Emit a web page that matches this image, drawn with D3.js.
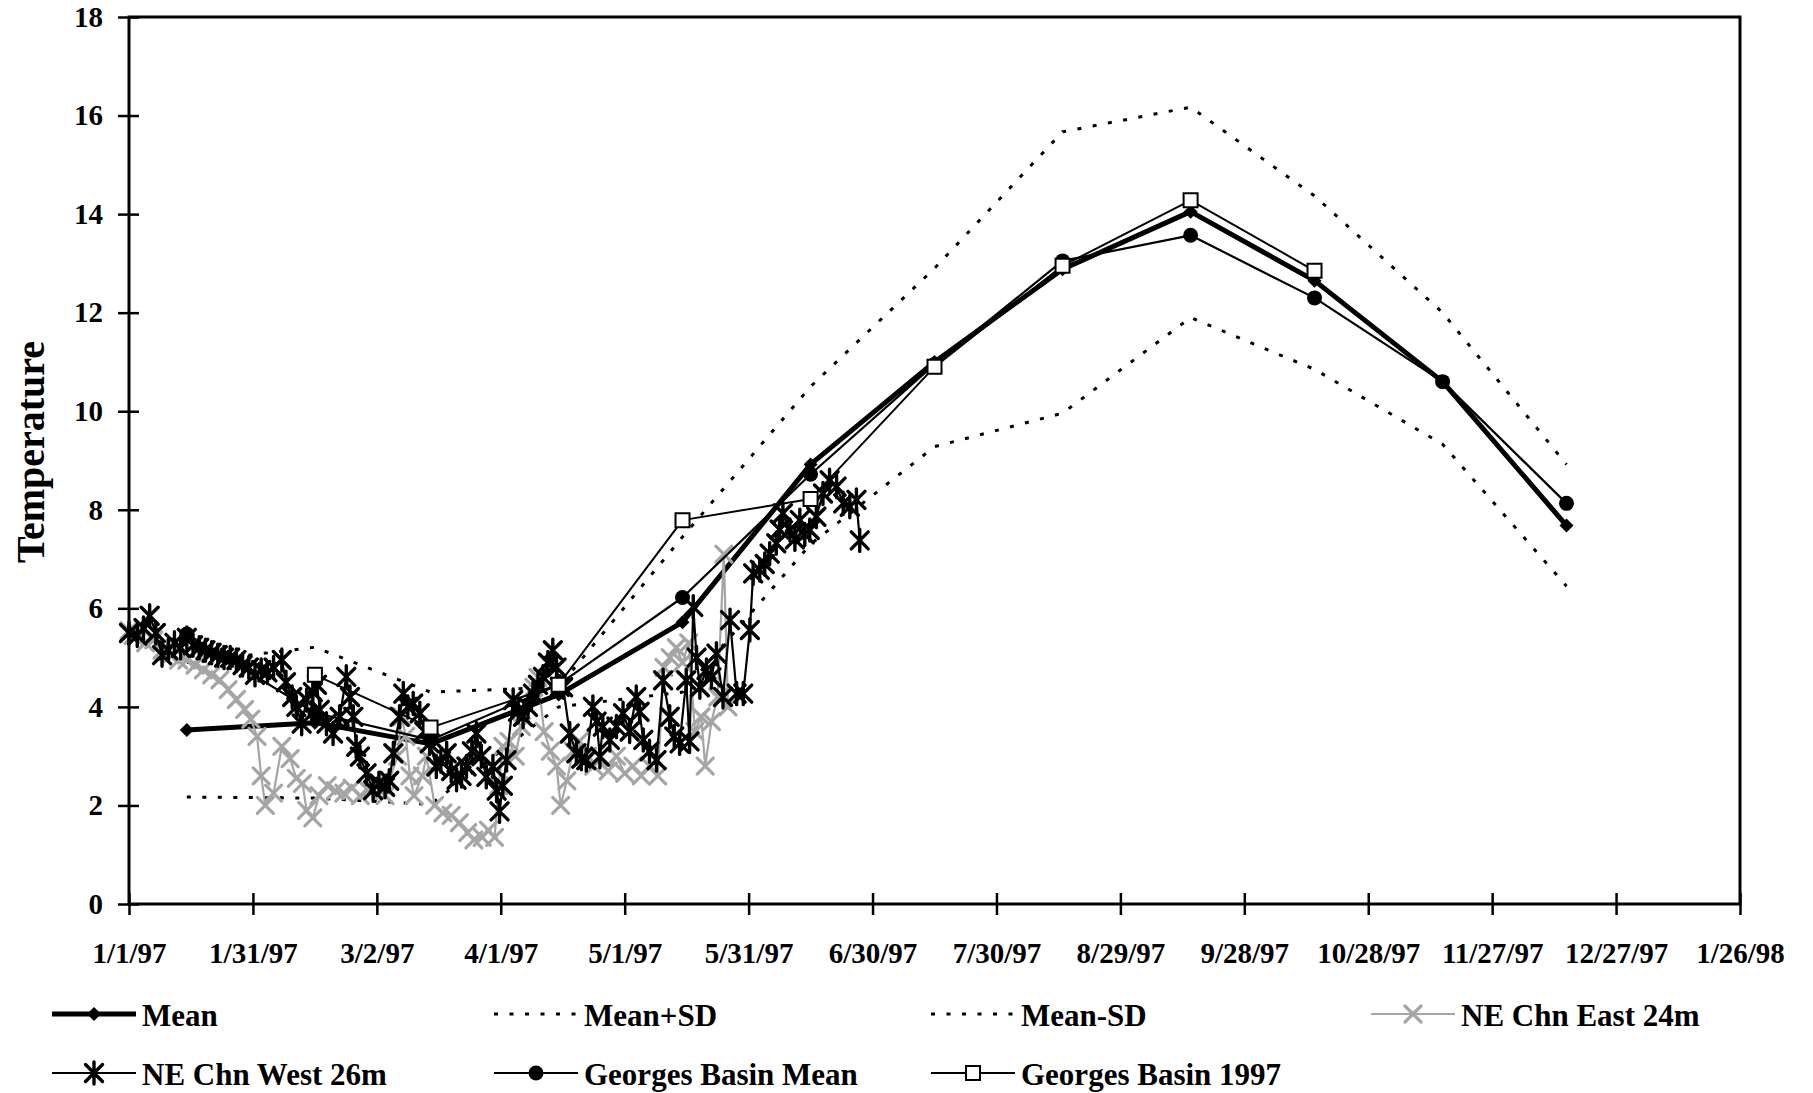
<!DOCTYPE html>
<html>
<head>
<meta charset="utf-8">
<script src="https://cdn.jsdelivr.net/npm/d3@7"></script>
<style>
  html, body { margin: 0; padding: 0; background: #fff; }
  svg { display: block; }
  text { font-family: "Liberation Serif", "Times New Roman", serif; font-weight: bold; fill: #000; }
</style>
</head>
<body>
<svg id="chart" width="1813" height="1093"></svg>
<script>
// ---- data -------------------------------------------------------------
const tickLabels = ["1/1/97","1/31/97","3/2/97","4/1/97","5/1/97","5/31/97","6/30/97",
  "7/30/97","8/29/97","9/28/97","10/28/97","11/27/97","12/27/97","1/26/98"];
const yTicks = [0, 2, 4, 6, 8, 10, 12, 14, 16, 18];

// monthly climatology (mid-month)
const monthDates = ["1/15/97","2/15/97","3/15/97","4/15/97","5/15/97","6/15/97",
  "7/15/97","8/15/97","9/15/97","10/15/97","11/15/97","12/15/97"];
const meanTemp      = [3.53, 3.68, 3.25, 4.25, 5.72, 8.92, 11.0, 12.88, 14.05, 12.65, 10.6, 7.68];
const meanPlusSD    = [4.90, 5.21, 4.30, 4.40, 7.45, 10.5, 12.9, 15.67, 16.17, 14.37, 12.0, 8.92];
const meanMinusSD   = [2.17, 2.15, 2.02, 4.00, 4.30, 7.30, 9.28, 9.96, 11.90, 10.85, 9.33, 6.45];
const basinMeanTemp = [5.48, 3.88, 3.33, 4.45, 6.22, 8.72, 10.95, 13.05, 13.57, 12.30, 10.6, 8.13];

// Georges Basin 1997 monthly observations
const basin97Dates = ["2/15/97","3/15/97","4/15/97","5/15/97","6/15/97",
  "7/15/97","8/15/97","9/15/97","10/15/97"];
const basin97Temp  = [4.65, 3.58, 4.45, 7.79, 8.22, 10.90, 12.95, 14.28, 12.85];

// NE Channel moorings: day of 1997 (0 = Jan 1) and temperature
const eastDay = [0,1,2,4,6,8,10,12,14,16,18,20,22,24,26,28,29.5,31,32,33,35,37,39,40.5,42,43,44.5,
  46,48,50,52,54,56,58,60,62,63,65,66,67,68,69,71,72,74,76,78,80,82,83.5,85.5,87,88.5,89.5,90.5,
  92,93.5,95,96.5,98,99,100.5,102,103.5,104.5,106,107.5,109,111,112.5,114,116,118,120,122,124,
  126,128,129.5,131,132.5,134,135.5,137,138.5,139.5,141,142.5,144,145];
const eastTemp = [5.55,5.45,5.5,5.3,5.36,5.15,5.05,4.95,4.95,4.85,4.75,4.65,4.55,4.35,4.15,3.95,3.75,
  3.4,2.6,2.0,2.25,3.2,2.95,2.55,2.45,1.9,1.75,2.2,2.4,2.3,2.25,2.35,2.2,2.3,2.45,2.2,2.5,3.0,3.8,
  3.4,2.6,2.2,2.6,3.0,2.0,1.85,1.8,1.65,1.45,1.3,1.35,1.5,1.35,2.4,3.2,3.3,3.0,3.6,4.0,4.4,4.6,3.5,
  3.1,2.8,2.0,2.5,3.1,3.3,3.0,2.8,3.0,2.7,3.0,2.65,2.8,2.6,2.8,2.6,4.8,5.0,5.2,4.9,5.3,3.5,3.8,2.8,
  3.7,4.2,7.1,4.0];

const westDay = [0,2,3.5,5,6.5,8,9.5,11,12.5,14,15.5,17,18.5,20,21.5,23,24.5,26,27.5,29,30.5,32,
  33.5,35,37,38,39.5,40.5,41.8,43,44.5,45.5,46.2,47.8,49.4,51,52.6,53.5,54.3,55,55.9,57.5,59.1,
  60.5,62,63,64,65.5,66.4,67.5,68.8,70.4,71.5,72.8,74.4,75.5,76.9,78,79.3,80.5,81.7,83,84.1,85.3,
  86.5,88.1,89,89.7,90.5,91.4,93,94.2,95.4,96.6,97.8,99,100.2,101.4,102.6,103.5,104.3,105.1,
  106.7,108.3,109.5,110.7,112.3,113.2,114,114.7,116.4,118,119.6,121.2,122.8,123.6,124.5,126,
  127.7,129.3,130.9,132,133.3,134.9,135.7,136.6,137.4,138.2,139.8,141,142.2,143.8,145.5,147.1,
  148.7,150.3,151.1,152.7,153.9,155.1,156.7,157.5,158.3,160,161.2,162.4,163.6,164.8,166.4,168,
  169.6,171.3,172.9,174.5,176.1,176.9];
const westTemp = [5.5,5.45,5.6,5.85,5.5,5.05,5.15,5.3,5.2,5.4,5.25,5.2,5.15,5.1,5.05,5.0,5.0,4.95,
  4.85,4.8,4.65,4.75,4.7,4.8,4.95,4.5,4.2,4.0,3.66,4.14,4.3,4.45,3.94,3.66,3.46,3.8,4.61,4.2,3.8,
  3.19,2.99,2.65,2.31,2.45,2.38,2.5,3.06,3.8,4.27,4.0,4.07,3.87,3.5,3.26,2.79,2.9,3.06,2.7,2.52,
  2.6,2.79,3.1,3.46,3.0,2.58,2.79,2.3,1.88,2.4,2.92,4.14,3.9,3.8,4.0,4.27,4.45,4.61,4.9,5.15,4.8,
  4.41,4.4,3.46,3.06,2.95,2.92,4.0,3.7,2.99,3.6,3.33,3.6,3.87,3.5,4.2,3.9,3.33,3.1,2.92,4.54,3.8,
  3.4,3.26,4.54,3.3,6.03,5.0,4.4,4.75,4.6,5.08,4.2,5.76,4.27,4.27,5.56,6.71,6.78,6.9,7.11,7.32,
  7.6,7.93,7.59,7.4,7.79,7.5,7.59,7.86,8.33,8.6,8.47,8.13,8.06,8.2,7.38];

// ---- layout ----------------------------------------------------------
const svg = d3.select("#chart");
const W = 1813, H = 1093;
const plot = { left: 129, right: 1740, top: 17, bottom: 904 };
const parse = d3.timeParse("%m/%d/%y");
const start = parse("1/1/97");
const fromDay = d => new Date(start.getTime() + d * 864e5);

const x = d3.scaleTime().domain([start, parse("1/26/98")]).range([plot.left, plot.right]);
const y = d3.scaleLinear().domain([0, 18]).range([plot.bottom, plot.top]);

svg.append("rect").attr("width", W).attr("height", H).attr("fill", "#fff");

// ---- markers ---------------------------------------------------------
const markerPath = {
  diamond: r => `M0,${-r}L${r},0L0,${r}L${-r},0Z`,
  square: r => `M${-r},${-r}H${r}V${r}H${-r}Z`,
  cross: r => `M${-r},${-r}L${r},${r}M${r},${-r}L${-r},${r}`,
  star: r => `M${-r},${-r}L${r},${r}M${r},${-r}L${-r},${r}M0,${-r * 1.3}V${r * 1.3}`,
};

const series = [
  { name: "Mean", pts: monthDates.map((d, i) => [parse(d), meanTemp[i]]),
    stroke: "#000", width: 5, marker: "diamond", r: 7, fill: "#000" },
  { name: "Mean+SD", pts: monthDates.map((d, i) => [parse(d), meanPlusSD[i]]),
    stroke: "#000", width: 3, dash: "4 11.5" },
  { name: "Mean-SD", pts: monthDates.map((d, i) => [parse(d), meanMinusSD[i]]),
    stroke: "#000", width: 3, dash: "4 11.5" },
  { name: "NE Chn East 24m", pts: eastDay.map((d, i) => [fromDay(d), eastTemp[i]]),
    stroke: "#a5a5a5", width: 2.2, marker: "cross", r: 8, markerStroke: "#a5a5a5", mw: 3.2 },
  { name: "NE Chn West 26m", pts: westDay.map((d, i) => [fromDay(d), westTemp[i]]),
    stroke: "#000", width: 2.2, marker: "star", r: 8.5, markerStroke: "#000", mw: 3.4 },
  { name: "Georges Basin Mean", pts: monthDates.map((d, i) => [parse(d), basinMeanTemp[i]]),
    stroke: "#000", width: 2.2, marker: "circle", r: 7.5, fill: "#000" },
  { name: "Georges Basin 1997", pts: basin97Dates.map((d, i) => [parse(d), basin97Temp[i]]),
    stroke: "#000", width: 2, marker: "square", r: 7, fill: "#fff", markerStroke: "#000", mw: 2 },
];

function drawMarker(g, s, px, py) {
  if (s.marker === "circle") {
    g.append("circle").attr("cx", px).attr("cy", py).attr("r", s.r).attr("fill", s.fill);
  } else {
    g.append("path").attr("transform", `translate(${px},${py})`)
      .attr("d", markerPath[s.marker](s.r))
      .attr("fill", s.fill || "none")
      .attr("stroke", s.markerStroke || "none")
      .attr("stroke-width", s.mw || 0)
      .attr("stroke-linecap", "round");
  }
}

// ---- series ----------------------------------------------------------
const line = d3.line().x(d => x(d[0])).y(d => y(d[1]));
const gData = svg.append("g");
series.forEach(s => {
  const g = gData.append("g");
  g.append("path").datum(s.pts).attr("d", line)
    .attr("fill", "none").attr("stroke", s.stroke).attr("stroke-width", s.width)
    .attr("stroke-dasharray", s.dash || null)
    .attr("stroke-linejoin", "round");
  if (s.marker) s.pts.forEach(p => drawMarker(g, s, x(p[0]), y(p[1])));
});

// ---- frame & axes ----------------------------------------------------
svg.append("rect")
  .attr("x", plot.left).attr("y", plot.top)
  .attr("width", plot.right - plot.left).attr("height", plot.bottom - plot.top)
  .attr("fill", "none").attr("stroke", "#000").attr("stroke-width", 3);

const xAxis = d3.axisBottom(x)
  .tickValues(tickLabels.map(parse))
  .tickFormat((d, i) => tickLabels[i])
  .tickSizeInner(22).tickSizeOuter(0).tickPadding(27);
const gx = svg.append("g").attr("transform", `translate(0,${plot.bottom - 11})`).call(xAxis);
gx.select(".domain").remove();
gx.selectAll(".tick line").attr("stroke", "#000").attr("stroke-width", 2.5);
gx.selectAll(".tick text").attr("font-size", 29).attr("font-family", "Liberation Serif").attr("font-weight", "bold");

const yAxis = d3.axisLeft(y).tickValues(yTicks)
  .tickSizeInner(21).tickSizeOuter(0).tickPadding(15);
const gy = svg.append("g").attr("transform", `translate(${plot.left + 10},0)`).call(yAxis);
gy.select(".domain").remove();
gy.selectAll(".tick line").attr("stroke", "#000").attr("stroke-width", 2.5);
gy.selectAll(".tick text").attr("font-size", 29).attr("font-family", "Liberation Serif").attr("font-weight", "bold");

svg.append("text")
  .attr("transform", "translate(44,452) rotate(-90)")
  .attr("text-anchor", "middle").attr("font-size", 40)
  .text("Temperature");

// ---- legend ----------------------------------------------------------
const legendCols = [52, 494, 931, 1371];
const legendRows = [1014, 1073];
const legendItems = [
  [0, 0, 0], [1, 0, 1], [2, 0, 2], [3, 0, 3],
  [4, 1, 0], [5, 1, 1], [6, 1, 2],
];
const gLeg = svg.append("g");
legendItems.forEach(([si, row, col]) => {
  const s = series[si];
  const x0 = legendCols[col], x1 = x0 + 84, ly = legendRows[row];
  const g = gLeg.append("g");
  g.append("line").attr("x1", x0).attr("x2", x1).attr("y1", ly).attr("y2", ly)
    .attr("stroke", s.stroke).attr("stroke-width", s.width)
    .attr("stroke-dasharray", s.dash || null);
  if (s.marker) drawMarker(g, s, (x0 + x1) / 2, ly);
  g.append("text").attr("x", x1 + 6).attr("y", ly + 12)
    .attr("font-size", 31).text(s.name);
});
</script>
</body>
</html>
